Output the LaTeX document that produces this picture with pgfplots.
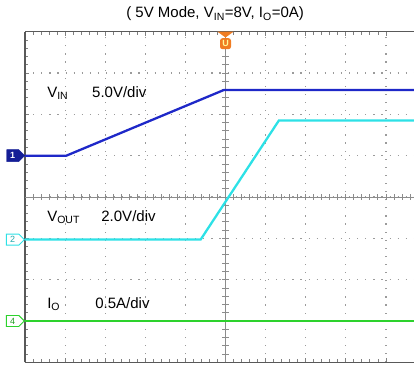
\documentclass[border=0pt]{standalone}
\usepackage{fontspec}
\setmainfont{Liberation Sans}
\usepackage{pgfplots}
\pgfplotsset{compat=1.18}
\usetikzlibrary{shapes.symbols,shapes.geometric}
\definecolor{vin}{RGB}{30,40,200}
\definecolor{vout}{RGB}{45,225,230}
\definecolor{io}{RGB}{45,210,45}
\definecolor{trig}{RGB}{240,125,35}
\definecolor{grd}{RGB}{155,155,155}
\definecolor{navy}{RGB}{20,30,150}
\begin{document}
\begin{tikzpicture}
\begin{axis}[
 at={(0,0)}, anchor=south west,
 width=389pt, height=330.6pt, scale only axis,
 xmin=0, xmax=9.70, ymin=-4, ymax=4,
 axis x line=box, axis y line=left,
 axis line style={-, draw=black!65, line width=1.3pt},
 xtick={0,...,9}, ytick={-4,...,4},
 minor x tick num=4, minor y tick num=4,
 xticklabels={}, yticklabels={},
 tick align=inside, major tick length=4pt, minor tick length=3pt,
 tick style={black!50, line width=0.8pt},
 grid=major,
 major grid style={grd, line width=1.2pt, dash pattern=on 1.2pt off 6.9pt},
 clip=false,
 font=\fontsize{15}{18}\selectfont,
]
% centre lines with small ticks
\draw[black!45, line width=0.8pt] (axis cs:5,-4) -- (axis cs:5,4);
\draw[black!45, line width=0.8pt] (axis cs:0,0) -- (axis cs:9.7,0);
\pgfplotsinvokeforeach{0.2,0.4,...,9.61}{\draw[black!45, line width=0.8pt] (axis cs:#1,-0.07) -- (axis cs:#1,0.07);}
\pgfplotsinvokeforeach{-3.8,-3.6,...,3.81}{\draw[black!45, line width=0.8pt] (axis cs:4.92,#1) -- (axis cs:5.08,#1);}

% traces
\addplot[io, line width=2.3pt] coordinates {(0,-3) (9.70,-3)};
\addplot[vout, line width=2.3pt] coordinates {(0,-1.03) (4.38,-1.03) (6.33,1.85) (9.70,1.85)};
\addplot[vin, line width=2.3pt] coordinates {(0,1.0) (1.03,1.0) (4.96,2.59) (9.70,2.59)};

% labels
\node[anchor=base west, inner sep=0] at (axis cs:0.55,2.41) {V\textsubscript{IN}};
\node[anchor=base west, inner sep=0] at (axis cs:1.67,2.41) {5.0V/div};
\node[anchor=base west, inner sep=0] at (axis cs:0.55,-0.59) {V\textsubscript{OUT}};
\node[anchor=base west, inner sep=0] at (axis cs:1.90,-0.59) {2.0V/div};
\node[anchor=base west, inner sep=0] at (axis cs:0.55,-2.70) {I\textsubscript{O}};
\node[anchor=base west, inner sep=0] at (axis cs:1.75,-2.70) {0.5A/div};

% title
\node[inner sep=0] at (axis cs:4.74,4.43) {( 5V Mode, V\textsubscript{IN}=8V, I\textsubscript{O}=0A)};

% channel markers
\node[signal, signal to=east, fill=navy, draw=navy, text=white, font=\bfseries\small,
  minimum width=18pt, minimum height=12pt, inner sep=0pt, anchor=east] at (axis cs:0,1.0) {1};
\node[signal, signal to=east, fill=white, draw=vout, line width=0.9pt, text=vout!75!black, font=\small,
  minimum width=18pt, minimum height=11pt, inner sep=0pt, anchor=east] at (axis cs:0,-1.03) {2};
\node[signal, signal to=east, fill=white, draw=io, line width=0.9pt, text=io!75!black, font=\small,
  minimum width=18pt, minimum height=11pt, inner sep=0pt, anchor=east] at (axis cs:0,-3) {4};

% trigger marker
\fill[trig] (axis cs:4.80,4) -- (axis cs:5.20,4) -- (axis cs:5,3.86) -- cycle;
\node[fill=trig, rounded corners=2.5pt, text=yellow!40!white, font=\bfseries\fontsize{9}{9}\selectfont,
  minimum width=11pt, minimum height=11pt, inner sep=0pt] at (axis cs:5,3.71) {U};
\end{axis}
\pgfresetboundingbox
\path (-25pt,-2.7pt) rectangle (389pt,362.3pt);
\end{tikzpicture}
\end{document}
